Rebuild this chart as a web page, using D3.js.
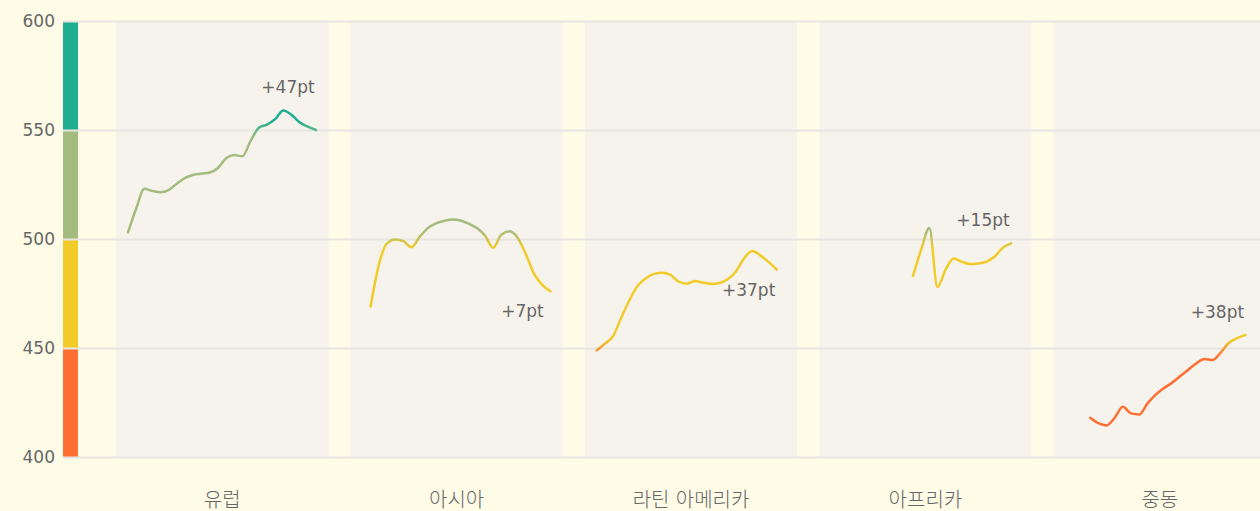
<!DOCTYPE html>
<html>
<head>
<meta charset="utf-8">
<script src="https://cdn.jsdelivr.net/npm/d3@7"></script>
<style>
  body { margin: 0; background: #fefce6; }
  svg { display: block; font-family: "DejaVu Sans", "Noto Sans CJK KR", sans-serif; }
</style>
</head>
<body>
<div id="chart"></div>
<script>
var width = 1260
var height = 511

// data
var categories = ["유럽", "아시아", "라틴 아메리카", "아프리카", "중동"]
var startYears = [2000, 2001, 2000, 2010, 2003]
var europe = [503, 514, 523, 522, 521.4, 522.5, 525.5, 528, 529.5, 530, 530.5, 532.6, 537, 538.5, 538, 545, 551, 552.5, 555, 559, 557, 553.5, 551.5, 550]
var asia = [469, 488, 498, 499.8, 499, 496.2, 501, 505, 507.2, 508.3, 509, 508.5, 507, 505, 501.5, 496, 502, 503.5, 500.5, 493, 484, 479, 476]
var latinAmerica = [449, 452, 455.5, 464, 472, 478.5, 482, 484, 484.5, 483.5, 480.5, 479.5, 480.7, 480, 479.4, 479.8, 481.5, 485, 491, 494.5, 492.5, 489.5, 486]
var africa = [483, 495, 505, 478, 486, 491, 489.5, 488.5, 488.8, 489.6, 492, 496, 498]
var middleEast = [418, 415.5, 414.5, 418, 423, 420, 419.5, 424.5, 428.5, 431.5, 434, 437, 440, 443, 445, 444.5, 448, 452.5, 454.5, 456]
var labelSides = ["above", "below", "below", "above", "above"]

var yTicks = [400, 450, 500, 550, 600]
var levelBreaks = [400, 450, 500, 550, 600]
var levelColors = ["#fe6f33", "#f2cb2a", "#a3bb7d", "#20ae91"]

var seriesValues = [europe, asia, latinAmerica, africa, middleEast]

var series = categories.map(function (c, i) {
  return {
    name: c,
    side: labelSides[i],
    points: seriesValues[i].map(function (v, j) {
      return { year: startYears[i] + j, value: v }
    })
  }
})

// scales
var y = d3.scaleLinear()
  .domain([400, 600])
  .range([457, 21])

var x = d3.scaleBand()
  .domain(categories)
  .range([105, 1277])
  .paddingInner(0.094)
  .paddingOuter(0.047)

var xYear = d3.scaleLinear()
  .domain([2000, 2023])
  .range([12, 200])

var svg = d3.select("#chart").append("svg")
  .attr("width", width)
  .attr("height", height)

svg.append("rect")
  .attr("width", width)
  .attr("height", height)
  .attr("fill", "#fefce6")

// panels
svg.append("g")
  .selectAll("rect")
  .data(categories)
  .enter()
  .append("rect")
  .attr("x", function (d) { return x(d) })
  .attr("y", y(600))
  .attr("width", x.bandwidth())
  .attr("height", y(400) - y(600))
  .attr("fill", "#f6f3ec")

// colour bar
svg.append("g")
  .selectAll("rect")
  .data(levelColors)
  .enter()
  .append("rect")
  .attr("x", 63)
  .attr("width", 15)
  .attr("y", function (d, i) { return y(levelBreaks[i + 1]) })
  .attr("height", function (d, i) { return y(levelBreaks[i]) - y(levelBreaks[i + 1]) })
  .attr("fill", function (d) { return d })

// y axis + grid
var yAxis = svg.append("g")
  .attr("transform", "translate(63,0)")
  .call(d3.axisLeft(y).tickValues(yTicks).tickSize(-(width - 63)).tickPadding(8))

yAxis.select(".domain").remove()
yAxis.selectAll(".tick line")
  .attr("stroke", "#e6e5e0")
  .attr("stroke-width", 2)
yAxis.selectAll(".tick text")
  .attr("fill", "#666")
  .attr("font-size", "17px")
  .attr("font-family", "'DejaVu Sans', sans-serif")

// category axis
var xAxis = svg.append("g")
  .attr("transform", "translate(0,457)")
  .call(d3.axisBottom(x).tickSize(0))

xAxis.select(".domain").remove()
xAxis.selectAll(".tick text")
  .attr("y", 50)
  .attr("dy", 0)
  .attr("fill", "#666")
  .attr("font-size", "20px")
  .attr("font-weight", 300)
  .attr("font-family", "'DejaVu Sans', 'Noto Sans CJK KR', sans-serif")

// gradient by score level
var defs = svg.append("defs")
var grad = defs.append("linearGradient")
  .attr("id", "levelGrad")
  .attr("gradientUnits", "userSpaceOnUse")
  .attr("x1", 0).attr("x2", 0)
  .attr("y1", y(400)).attr("y2", y(600))

var stops = []
levelColors.forEach(function (c, i) {
  stops.push({ v: levelBreaks[i] + (i === 0 ? 0 : 4), c: c })
  stops.push({ v: levelBreaks[i + 1] - (i === levelColors.length - 1 ? 0 : 4), c: c })
})

grad.selectAll("stop")
  .data(stops)
  .enter()
  .append("stop")
  .attr("offset", function (d) { return (d.v - 400) / 200 })
  .attr("stop-color", function (d) { return d.c })

// lines
var g = svg.append("g")

series.forEach(function (s) {
  var x0 = x(s.name)
  var line = d3.line()
    .x(function (d) { return x0 + xYear(d.year) })
    .y(function (d) { return y(d.value) })
    .curve(d3.curveMonotoneX)

  g.append("path")
    .datum(s.points)
    .attr("d", line)
    .attr("fill", "none")
    .attr("stroke", "url(#levelGrad)")
    .attr("stroke-width", 2.5)
    .attr("stroke-linecap", "round")

  var first = s.points[0]
  var last = s.points[s.points.length - 1]
  var diff = Math.round(last.value - first.value)
  var lx = x0 + xYear(last.year) - 28
  var ly
  if (s.side === "above") {
    var tail = s.points.slice(-5)
    ly = y(d3.max(tail, function (d) { return d.value })) - 17
  } else {
    ly = y(last.value) + 26
  }

  g.append("text")
    .attr("x", lx)
    .attr("y", ly)
    .attr("text-anchor", "middle")
    .attr("fill", "#666")
    .attr("font-size", "17px")
    .attr("font-family", "'DejaVu Sans', sans-serif")
    .text((diff >= 0 ? "+" : "") + diff + "pt")
})
</script>
</body>
</html>
